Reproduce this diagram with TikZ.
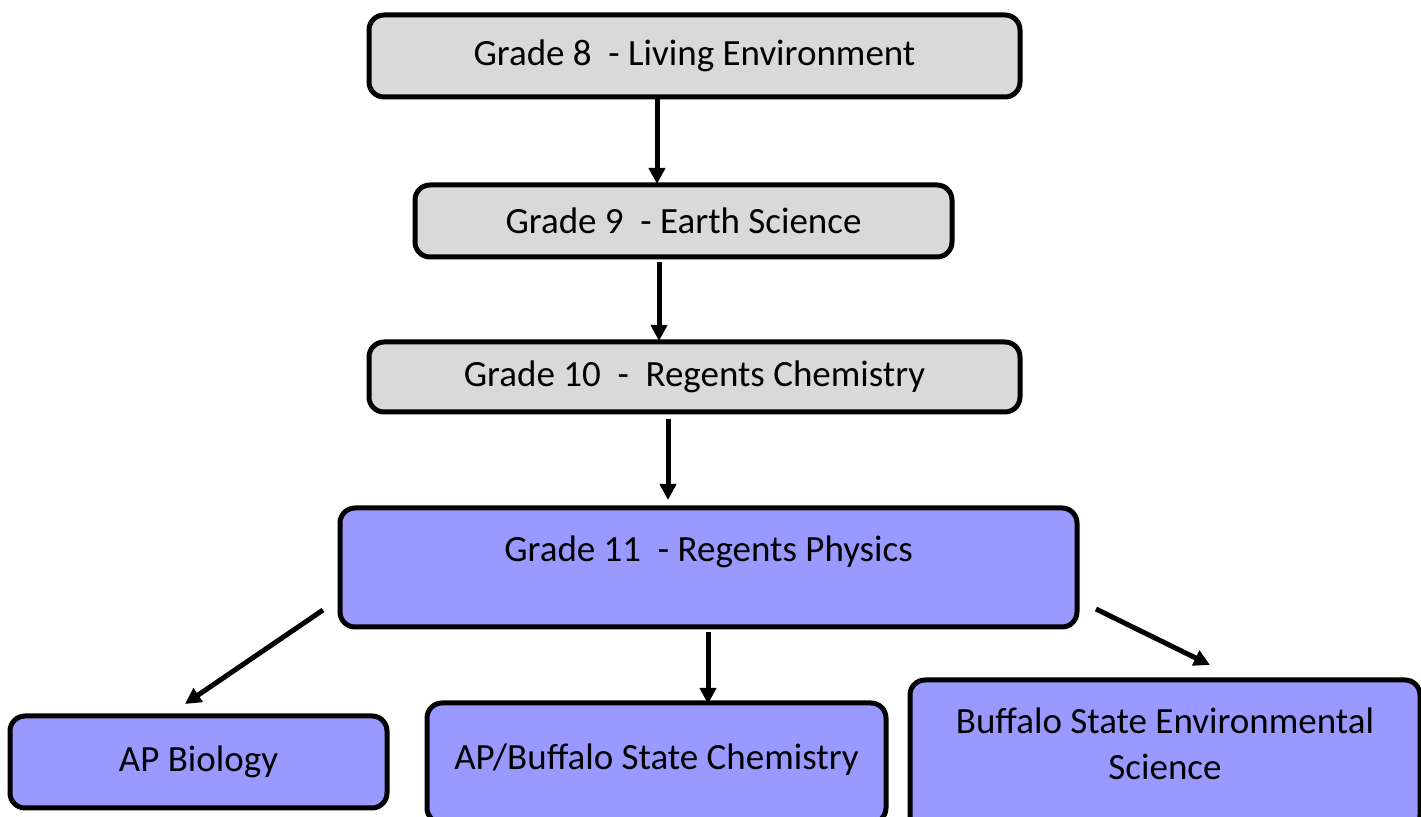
\documentclass[tikz,border=0pt]{standalone}
\usepackage{fontspec}
\setmainfont{Carlito}
\usetikzlibrary{arrows.meta}

\definecolor{boxgray}{HTML}{D9D9D9}
\definecolor{boxblue}{HTML}{9999FF}

\tikzset{
    course/.style={draw=black, line width=2.5pt, rounded corners=7.5pt, align=center,
        font=\fontsize{18.5}{23}\selectfont, inner sep=0pt},
    graybox/.style={course, fill=boxgray},
    bluebox/.style={course, fill=boxblue},
    arr/.style={line width=2.5pt, -{Triangle[length=8pt,width=8pt]}}
}

\begin{document}
\begin{tikzpicture}[x=0.5pt, y=-0.5pt]

    % Fix the page to the size of the picture
    \useasboundingbox (0, 0) rectangle (1421, 817);
    \clip (0, 0) rectangle (1421, 817);

    % The grade boxes, top to bottom
    \node[graybox, minimum width=325.5pt, minimum height=41pt] (g8) at (694.5, 56) {Grade 8~ - Living Environment};
    \node[graybox, minimum width=268.5pt, minimum height=36pt] (g9) at (683.5, 221) {Grade 9~ - Earth Science};
    \node[graybox, minimum width=325.5pt, minimum height=35pt] (g10) at (694.5, 377) {Grade 10~ -~ Regents Chemistry};
    \node[bluebox, minimum width=368.5pt, minimum height=59.5pt] (g11) at (708.5, 567.5) {Grade 11~ - Regents Physics\\[-11pt]\strut};

    % The three courses after grade 11 (cut by the lower edge)
    \node[bluebox, minimum width=188.5pt, minimum height=46pt] (apbio) at (198.5, 762) {AP Biology};
    \node[bluebox, minimum width=229.5pt, minimum height=60pt] (apchem) at (656.5, 763) {AP/Buffalo State Chemistry\\[-24pt]\strut};
    \node[bluebox, minimum width=255pt, minimum height=75pt] (envsci) at (1165, 755) {Buffalo State Environmental\\Science\\[-18.5pt]\strut};

    % Free ends of the arrows
    \coordinate (a1) at (657, 184);
    \coordinate (a2) at (659, 341);
    \coordinate (a3) at (668, 500);
    \coordinate (s4) at (323, 610);
    \coordinate (a4) at (185, 704);
    \coordinate (a5) at (708, 704);
    \coordinate (s6) at (1096, 609);
    \coordinate (a6) at (1210, 665);

    % Arrows down the grades
    \draw[arr] (g8.south -| a1) -- (a1);
    \draw[arr] (659, 262) -- (a2);
    \draw[arr] (668, 419) -- (a3);

    % Arrows to the three courses
    \draw[arr] (s4) -- (a4);
    \draw[arr] (708, 632) -- (a5);
    \draw[arr] (s6) -- (a6);

\end{tikzpicture}
\end{document}
